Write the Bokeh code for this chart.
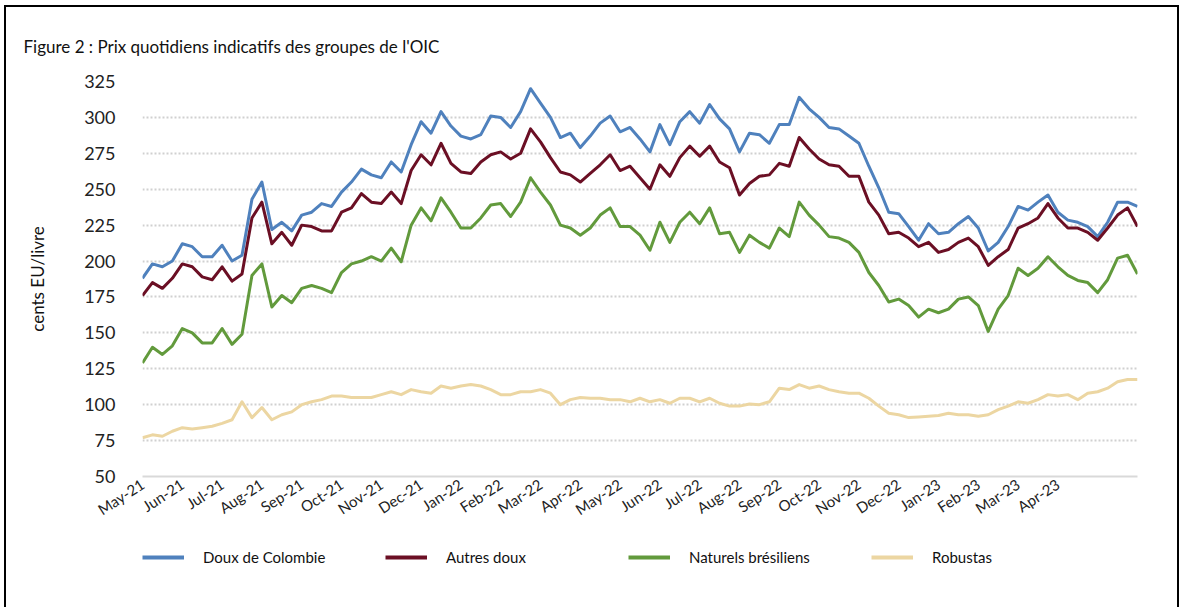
import math
from bokeh.plotting import figure
from bokeh.layouts import column
from bokeh.models import Range1d, FixedTicker, Legend, LegendItem
from bokeh.embed import file_html
from bokeh.resources import INLINE

months = ["May-21", "Jun-21", "Jul-21", "Aug-21", "Sep-21", "Oct-21", "Nov-21", "Dec-21",
          "Jan-22", "Feb-22", "Mar-22", "Apr-22", "May-22", "Jun-22", "Jul-22", "Aug-22",
          "Sep-22", "Oct-22", "Nov-22", "Dec-22", "Jan-23", "Feb-23", "Mar-23", "Apr-23"]

y_ticks = [50, 75, 100, 125, 150, 175, 200, 225, 250, 275, 300, 325]

# values read about every quarter month, starting at the beginning of May 2021
colombie = [188, 198, 196, 200, 212, 210, 203, 203, 211, 200, 204, 243, 255, 222, 227, 221, 232, 234, 240, 238,
            248, 255, 264, 260, 258, 269,
            262, 281, 297, 289, 304, 294, 287, 285, 288, 301, 300, 293, 304, 320, 310, 300, 286, 289, 279, 287,
            296, 301, 290, 293, 285,
            276, 295, 281, 297, 304, 296, 309, 299, 292, 276, 289, 288, 282, 295, 295, 314, 306, 300, 293, 292,
            287, 282, 266, 251, 234,
            233, 224, 214.5, 226, 219, 220, 226, 231, 223, 207, 213, 224, 238, 235.5, 241, 246, 234, 228.5, 227, 224,
            217, 227, 241, 241, 238]

autres_doux = [176, 185, 181, 188, 198, 196, 189, 187, 196, 186, 191, 230, 241, 212, 220, 211, 225, 224, 221, 221,
               234, 237, 247, 241, 240, 248,
               240, 263, 274, 267, 282, 268, 262, 261, 269, 274, 276, 271, 275, 292, 283, 272, 262, 260, 255, 261,
               267, 274, 263, 266, 258,
               250, 267, 259, 272, 280, 273, 280, 269, 265, 246, 254, 259, 260, 268, 266, 286, 278, 271, 267, 266,
               259, 259, 241, 232, 219,
               220, 216, 210, 213, 206, 208, 213, 216, 210, 197, 203, 208, 223, 226, 230, 240, 230, 223, 223, 220,
               214.5, 223, 232, 237, 224]

naturels_bresiliens = [129, 140, 135, 141, 153, 150, 143, 143, 153, 142, 149, 190, 198, 168, 176, 171, 181, 183, 181, 178,
                       192, 198, 200, 203, 200, 209,
                       199.5, 225, 237, 228, 244, 234, 223, 223, 230, 239, 240, 231, 241, 258, 248, 239, 225, 223, 218, 223,
                       232, 237, 224, 224, 218,
                       207.5, 227, 213, 227, 234, 226, 237, 219, 220, 206, 218, 213, 209, 223, 217, 241, 232, 225, 217, 216,
                       213, 206, 192, 183, 171.5,
                       173.5, 169, 161, 166.5, 164, 166.5, 173.5, 175, 169, 151, 166.5, 176, 195, 190, 195, 203, 196, 190,
                       186.5, 185, 178, 187, 202, 204, 191]

robustas = [77, 79, 78, 81.5, 84, 83, 84, 85, 87, 89.5, 102, 91, 98, 89.5, 93, 95, 100, 102, 103.5, 106,
            106, 105, 105, 105, 107, 109,
            107, 110.5, 109, 108, 113, 111.5, 113, 114, 113, 110.5, 107, 107, 109, 109, 110.5, 108, 100, 103.5, 105,
            104.5, 104.5, 103.5, 103.5, 102, 104.5,
            102, 103.5, 101, 104.5, 104.5, 102, 104.5, 101, 99, 99, 100.5, 100, 102, 111.5, 110.5, 114, 111.5, 113,
            110.5, 109, 108, 108, 104.5, 99, 94,
            93, 91, 91.5, 92, 92.5, 94, 93, 93, 92, 93, 96.5, 99, 102, 101, 103.5, 107, 106, 107, 103.5, 108,
            109, 111.5, 116, 117.5, 117.5]

series_names = ["Doux de Colombie", "Autres doux", "Naturels brésiliens", "Robustas"]
title_text = "Figure 2 : Prix quotidiens indicatifs des groupes de l'OIC"

t = [i / 4 for i in range(len(colombie))]  # months since May-21

FONT = "Lato"
colors = ["#4f81bd", "#6b0f24", "#629a3c", "#ecd6a2"]
data = [colombie, autres_doux, naturels_bresiliens, robustas]

p = figure(width=1171, height=535, output_backend="svg", toolbar_location=None,
           x_range=Range1d(0, 25), y_range=Range1d(50, 325),
           min_border_left=131, min_border_right=40, min_border_top=74, min_border_bottom=66)
p.outline_line_color = None
p.background_fill_color = "white"
p.border_fill_color = "white"

# title
p.title.text = title_text
p.title.align = "left"
p.title.offset = -119
p.title.standoff = 50
p.title.text_font = FONT
p.title.text_font_size = "17px"
p.title.text_font_style = "normal"
p.title.text_color = "#111111"

# grid
p.xgrid.visible = False
p.ygrid.grid_line_color = "#d0d0d0"
p.ygrid.grid_line_width = 2
p.ygrid.grid_line_dash = "2 2"
p.ygrid.ticker = FixedTicker(ticks=y_ticks)

# y axis
p.yaxis.ticker = FixedTicker(ticks=y_ticks)
p.yaxis.axis_line_color = None
p.yaxis.major_tick_line_color = None
p.yaxis.minor_tick_line_color = None
p.yaxis.major_label_text_font = FONT
p.yaxis.major_label_text_font_size = "18px"
p.yaxis.major_label_text_color = "#222222"
p.yaxis.major_label_standoff = 21
p.yaxis.axis_label = "cents EU/livre"
p.yaxis.axis_label_text_font = FONT
p.yaxis.axis_label_text_font_size = "17px"
p.yaxis.axis_label_text_font_style = "normal"
p.yaxis.axis_label_text_color = "#111111"
p.yaxis.axis_label_standoff = 33

# x axis
p.xaxis.ticker = FixedTicker(ticks=list(range(len(months))))
p.xaxis.major_label_overrides = {i: m for i, m in enumerate(months)}
p.xaxis.major_label_orientation = math.radians(33)
p.xaxis.axis_line_color = "#d9d9d9"
p.xaxis.axis_line_width = 2
p.xaxis.major_tick_line_color = None
p.xaxis.minor_tick_line_color = None
p.xaxis.major_label_text_font = FONT
p.xaxis.major_label_text_font_size = "15px"
p.xaxis.major_label_text_color = "#222222"
p.xaxis.major_label_standoff = 0

for ys, c in zip(data, colors):
    p.line(t, ys, line_color=c, line_width=3, line_join="round")

# legend strip below the chart (its frame starts where the first legend line starts)
leg_fig = figure(width=1171, height=65, output_backend="svg", toolbar_location=None,
                 x_range=Range1d(0, 1), y_range=Range1d(0, 1),
                 x_axis_location=None, y_axis_location=None,
                 min_border_left=136, min_border_right=0, min_border_top=5, min_border_bottom=0)
leg_fig.outline_line_color = None
leg_fig.grid.visible = False
leg_fig.background_fill_color = "white"
leg_fig.border_fill_color = "white"
# same series, outside this strip's visible range: only their legend swatches show
leg_renderers = [leg_fig.line(t, ys, line_color=c, line_width=4) for ys, c in zip(data, colors)]

legend = Legend(items=[LegendItem(label=n, renderers=[r]) for n, r in zip(series_names, leg_renderers)],
                location="top_left", orientation="horizontal",
                glyph_width=42, glyph_height=20, label_height=20, label_width=160,
                label_standoff=19, padding=0, margin=0, spacing=22,
                border_line_color=None, background_fill_alpha=0,
                label_text_font=FONT, label_text_font_size="15px", label_text_color="#111111")
leg_fig.add_layout(legend)

layout = column(p, leg_fig, spacing=0)
layout.styles = {"border-top": "2px solid black", "border-left": "2px solid black",
                 "border-right": "2px solid black", "margin-left": "4px", "margin-top": "5px"}

open("out.html", "w").write(file_html(layout, INLINE))
